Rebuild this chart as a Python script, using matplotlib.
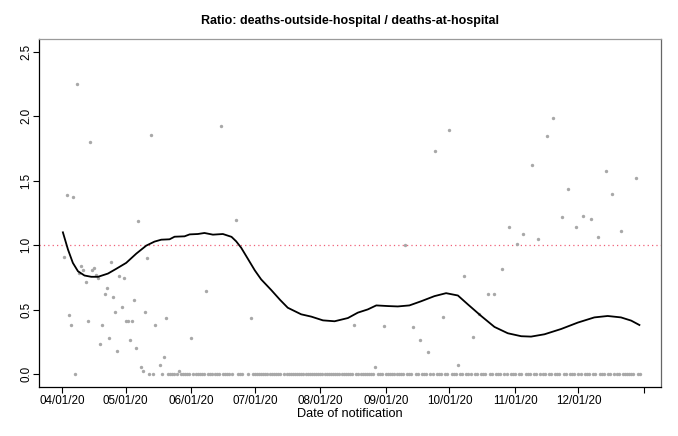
import numpy as np
import matplotlib
matplotlib.use('Agg')
import matplotlib.pyplot as plt

plt.rcParams['font.family'] = ['Liberation Sans', 'DejaVu Sans']

start = np.datetime64('2020-04-01')

# days (offset from 04/01/20) with a positive ratio, and the ratio
pos_day = [1, 2, 3, 4, 5, 7, 8, 9, 10, 11, 12, 13, 14, 15, 16, 17, 18, 19, 20,
           21, 22, 23, 24, 25, 26, 27, 28, 29, 30, 31, 32, 33, 34, 35, 36, 37,
           38, 39, 40, 42, 44, 46, 48, 49, 55, 61, 68, 75, 82, 89, 138, 148,
           152, 162, 166, 169, 173, 176, 180, 183, 187, 190, 194, 197, 201,
           204, 208, 211, 215, 218, 222, 225, 229, 232, 236, 239, 243, 246,
           250, 253, 257, 260, 264, 271]
pos_val = [0.907, 1.391, 0.456, 0.381, 1.376, 2.254, 0.786, 0.842, 0.811, 0.716,
           0.412, 1.798, 0.811, 0.824, 0.768, 0.747, 0.237, 0.379, 0.624, 0.665,
           0.278, 0.866, 0.597, 0.484, 0.178, 0.760, 0.518, 0.747, 0.412, 0.412,
           0.263, 0.415, 0.574, 0.201, 1.190, 0.057, 0.021, 0.482, 0.904, 1.855,
           0.379, 0.070, 0.129, 0.435, 0.023, 0.278, 0.644, 1.922, 1.192, 0.433,
           0.379, 0.059, 0.371, 1.002, 0.363, 0.268, 0.170, 1.729, 0.446, 1.896,
           0.070, 0.763, 0.291, 0.464, 0.621, 0.621, 0.819, 1.141, 1.007, 1.084,
           1.620, 1.046, 1.850, 1.986, 1.216, 1.437, 1.139, 1.226, 1.205, 1.066,
           1.577, 1.396, 1.108, 1.525]

# runs of days (inclusive) where the ratio was 0
zero_runs = [(6, 6), (41, 41), (43, 43), (47, 47), (50, 54), (56, 60), (62, 67),
             (69, 74), (76, 80), (83, 85), (88, 88), (90, 103), (105, 137),
             (139, 147), (149, 151), (153, 161), (163, 165), (167, 168),
             (170, 172), (174, 175), (177, 179), (181, 182), (184, 186),
             (188, 189), (191, 193), (195, 196), (198, 200), (202, 203),
             (205, 207), (209, 210), (212, 214), (216, 217), (219, 221),
             (223, 224), (226, 228), (230, 231), (233, 235), (237, 238),
             (240, 242), (244, 245), (247, 249), (251, 252), (254, 256),
             (258, 259), (261, 263), (265, 270), (272, 273)]

# smoothed curve
smooth_day = [0.3, 2.7, 5.0, 7.4, 10.5, 13.7, 16.9, 21.6, 25.5, 30.2, 35.0, 39.7,
              43.6, 46.8, 50.7, 53.1, 57.8, 60.2, 64.1, 67.2, 71.2, 75.9, 80.0,
              82.2, 84.6, 87.7, 91.0, 94.0, 98.8, 103.0, 106.6, 112.9, 117.7,
              123.2, 128.7, 135.0, 139.7, 144.4, 148.4, 153.9, 158.6, 164.1,
              169.6, 175.9, 181.4, 187.0, 191.7, 198.0, 204.3, 210.6, 216.9,
              221.6, 227.9, 235.8, 243.7, 251.5, 257.8, 264.1, 268.9, 272.8]
smooth_val = [1.100, 0.966, 0.863, 0.798, 0.765, 0.755, 0.755, 0.780, 0.817,
              0.863, 0.935, 0.997, 1.028, 1.043, 1.046, 1.066, 1.069, 1.084,
              1.087, 1.095, 1.082, 1.087, 1.065, 1.030, 0.980, 0.895, 0.805,
              0.735, 0.652, 0.575, 0.515, 0.464, 0.446, 0.417, 0.410, 0.435,
              0.477, 0.502, 0.533, 0.528, 0.525, 0.533, 0.565, 0.605, 0.628,
              0.610, 0.541, 0.451, 0.366, 0.317, 0.294, 0.291, 0.309, 0.350,
              0.400, 0.440, 0.451, 0.440, 0.415, 0.381]

month_ticks = ['2020-04-01', '2020-05-01', '2020-06-01', '2020-07-01', '2020-08-01',
               '2020-09-01', '2020-10-01', '2020-11-01', '2020-12-01', '2021-01-01']
month_labels = ['04/01/20', '05/01/20', '06/01/20', '07/01/20', '08/01/20',
                '09/01/20', '10/01/20', '11/01/20', '12/01/20', '']

zero_day = [d for a, b in zero_runs for d in range(a, b + 1)]
pts_day = np.array(pos_day + zero_day)
pts_val = np.array(pos_val + [0.0] * len(zero_day))


def to_dt(d):
    hours = np.array(np.round(np.array(d) * 24), dtype='timedelta64[h]')
    return (start + hours).astype('datetime64[s]').astype(object)


fig = plt.figure(figsize=(6.78, 4.36), dpi=100)
ax = fig.add_axes([39 / 678, 49 / 436, 622 / 678, 348 / 436])

ax.scatter(to_dt(pts_day), pts_val, s=6, color='#a8a8a8', linewidths=0, zorder=2)
ax.axhline(1.0, color='#f06078', lw=0.9, linestyle=(0, (1, 2.5)), zorder=1)
ax.plot(to_dt(smooth_day), smooth_val, color='black', lw=1.3, zorder=3)

x0 = start - np.timedelta64(11, 'D')
x1 = np.datetime64('2020-12-30') + np.timedelta64(10, 'D')
ax.set_xlim(x0.astype(object), x1.astype(object))
ax.set_ylim(-0.1, 2.6)

ax.set_xticks([np.datetime64(t).astype(object) for t in month_ticks])
ax.set_xticklabels(month_labels)
ax.set_yticks([0.0, 0.5, 1.0, 1.5, 2.0, 2.5])
ax.set_yticklabels(['0.0', '0.5', '1.0', '1.5', '2.0', '2.5'], rotation=90, va='center')
ax.tick_params(axis='x', length=4, width=0.8, pad=1.5, labelsize=8.4)
ax.tick_params(axis='y', length=4, width=0.8, pad=1, labelsize=8.4)

ax.spines['left'].set_color('black')
ax.spines['bottom'].set_color('black')
ax.spines['top'].set_color('#9a9a9a')
ax.spines['right'].set_color('#666666')
for s in ax.spines.values():
    s.set_linewidth(0.9)

ax.set_xlabel('Date of notification', fontsize=9.2, labelpad=1)
ax.set_title('Ratio: deaths-outside-hospital / deaths-at-hospital',
             fontsize=9.0, fontweight='bold', pad=11)

fig.savefig('out.png', dpi=100)
